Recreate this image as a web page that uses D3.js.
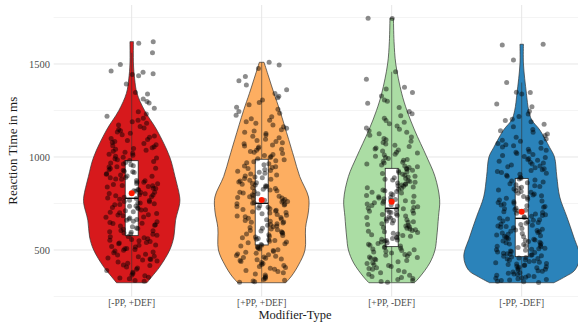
<!DOCTYPE html>
<html>
<head>
<meta charset="utf-8">
<script src="https://cdn.jsdelivr.net/npm/d3@7"></script>
<style>
  body { margin: 0; background: #fff; }
  svg { display: block; font-family: "Liberation Serif", "DejaVu Serif", serif; }
</style>
</head>
<body>
<div id="chart"></div>
<script>
// categories + fill colours
const categories = ["[-PP, +DEF]", "[+PP, +DEF]", "[+PP, -DEF]", "[-PP, -DEF]"];
const colors = ["#d7191c", "#fdae61", "#abdda4", "#2b83ba"];

// violin outline: reaction-time levels (ms) and relative density at each level
const violinLevels = [
  [324, 355, 410, 500, 570, 660, 750, 785, 895, 1000, 1145, 1250, 1343, 1420, 1500, 1620],
  [324, 360, 420, 500, 620, 710, 785, 895, 1000, 1095, 1250, 1342, 1430, 1509],
  [324, 355, 430, 500, 570, 680, 770, 895, 1000, 1145, 1250, 1343, 1500, 1620, 1746],
  [324, 356, 392, 465, 570, 680, 785, 895, 1000, 1050, 1145, 1200, 1250, 1343, 1500, 1606]
];
const violinDensity = [
  [26, 34, 48, 65, 72, 75, 82, 82, 74, 65, 43, 22, 9, 5, 3, 3],
  [41, 51, 63, 74, 75, 80, 80, 65, 55, 46, 31, 21, 12, 4],
  [39, 48, 65, 74, 77, 80, 82, 74, 60, 39, 26, 17, 7, 4, 3],
  [55, 74, 91, 99, 89, 77, 65, 60, 56, 48, 31, 17, 12, 8, 3, 3]
];

// boxplot stats (ms)
const q1 = [577, 527, 518, 464];
const median = [778, 751, 724, 670];
const q3 = [980, 988, 939, 885];
const means = [805, 769, 760, 706];
const whiskerLow = [330, 326, 327, 325];
const whiskerHigh = [1560, 1509, 1458, 1400];

// single trials (ms), one array per modifier type
const rtRed = [332, 336, 345, 349, 353, 361, 366, 374, 381, 390, 397, 403, 408, 416, 420, 429, 435, 441, 446, 449,
  452, 457, 464, 466, 473, 477, 485, 489, 494, 499, 502, 507, 508, 516, 519, 525, 527, 534, 538, 540, 546, 550,
  553, 557, 560, 566, 571, 573, 579, 584, 586, 592, 596, 598, 603, 605, 612, 616, 618, 625, 629, 633, 636, 642, 644, 648,
  652, 654, 660, 664, 666, 672, 676, 678, 684, 688, 690, 696, 700, 703, 705, 711, 715, 717, 723, 727, 729, 735, 737, 743, 745, 748,
  752, 753, 759, 761, 766, 768, 773, 777, 779, 784, 786, 791, 795, 797, 802, 804, 809, 811, 816, 818, 823, 825, 831, 832, 838, 841, 845, 847,
  852, 856, 858, 864, 866, 872, 874, 880, 882, 888, 890, 896, 898, 903, 907, 910, 916, 920, 923, 929, 931, 938, 940, 946, 948,
  953, 958, 962, 967, 971, 976, 981, 985, 990, 994, 999, 1004, 1009, 1015, 1020, 1026, 1031, 1036, 1041, 1045, 1049,
  1055, 1061, 1066, 1072, 1078, 1083, 1089, 1094, 1099, 1106, 1113, 1120, 1127, 1134, 1141, 1148,
  1156, 1164, 1172, 1181, 1189, 1197, 1208, 1219, 1231, 1243, 1262, 1290, 1298, 1312, 1338, 1347, 1392,
  1437, 1443, 1448, 1455, 1462, 1497, 1560, 1612, 1620];
const rtOrange = [326, 329, 333, 338, 342, 347, 352, 358, 365, 371, 377, 384, 390, 397, 402, 406, 411, 417, 422, 428, 433, 438, 444, 448,
  451, 455, 459, 463, 467, 471, 475, 479, 483, 488, 492, 497, 501, 505, 509, 513, 517, 522, 526, 530, 534, 539, 543, 547,
  551, 555, 558, 562, 566, 570, 574, 578, 582, 586, 590, 594, 598, 602, 605, 609, 613, 617, 621, 625, 629, 633, 637, 641, 645, 649,
  651, 655, 659, 663, 667, 671, 675, 679, 683, 687, 691, 695, 699, 702, 706, 710, 714, 718, 722, 726, 730, 734, 738, 742, 746, 749,
  751, 754, 758, 761, 765, 768, 772, 775, 779, 782, 786, 789, 793, 797, 802, 806, 810, 814, 818, 822, 826, 830, 834, 838, 842, 846, 849,
  853, 857, 862, 866, 871, 875, 880, 884, 889, 893, 898, 903, 908, 913, 918, 923, 928, 933, 938, 943, 948,
  952, 958, 963, 969, 974, 980, 985, 991, 997, 1003, 1008, 1014, 1019, 1025, 1030, 1036, 1041, 1047,
  1053, 1059, 1065, 1071, 1077, 1083, 1089, 1095, 1104, 1111, 1118, 1126, 1133, 1140, 1147,
  1155, 1163, 1172, 1181, 1189, 1197, 1206, 1216, 1225, 1235, 1244, 1256, 1268, 1281, 1293,
  1306, 1318, 1327, 1341, 1362, 1387, 1410, 1432, 1476, 1494, 1509];
const rtGreen = [327, 331, 336, 341, 347, 352, 357, 364, 370, 377, 383, 390, 396, 401, 405, 411, 416, 421, 427, 432, 437, 443, 448,
  451, 455, 459, 463, 468, 472, 476, 480, 484, 489, 493, 497, 501, 505, 510, 514, 518, 522, 526, 531, 535, 539, 543, 548,
  551, 554, 558, 562, 566, 570, 574, 578, 582, 586, 590, 594, 598, 601, 605, 609, 613, 617, 621, 625, 629, 633, 637, 641, 645, 649,
  652, 656, 659, 663, 667, 671, 675, 679, 683, 687, 691, 695, 698, 701, 704, 708, 711, 715, 718, 722, 725, 729, 732, 736, 739, 743, 747,
  751, 754, 758, 761, 765, 768, 772, 775, 779, 782, 786, 789, 793, 797, 802, 806, 810, 814, 818, 822, 826, 830, 834, 838, 842, 846, 849,
  852, 856, 860, 864, 868, 872, 876, 880, 884, 888, 892, 897, 902, 907, 911, 916, 920, 925, 929, 934, 938, 943, 947,
  952, 957, 962, 967, 972, 977, 982, 987, 992, 997, 1004, 1010, 1015, 1021, 1026, 1032, 1037, 1043, 1048,
  1056, 1063, 1070, 1078, 1085, 1092, 1099, 1108, 1117, 1125, 1133, 1141, 1149,
  1156, 1167, 1178, 1187, 1196, 1208, 1221, 1233, 1244, 1266, 1289, 1299, 1306, 1328, 1346,
  1366, 1375, 1418, 1458, 1745, 1746];
const rtBlue = [325, 329, 332, 336, 339, 342, 345, 348, 351, 354, 357, 361, 364, 368, 371, 375, 378, 382, 386, 389, 393, 397,
  401, 404, 407, 410, 413, 416, 419, 422, 425, 428, 431, 434, 438, 441, 445, 448,
  451, 454, 457, 460, 463, 466, 469, 472, 474, 477, 480, 483, 486, 489, 492, 495, 498,
  501, 504, 507, 510, 514, 517, 520, 523, 526, 529, 532, 535, 539, 542, 545, 548,
  551, 554, 558, 561, 564, 568, 571, 574, 577, 581, 584, 588, 591, 594, 598,
  601, 605, 608, 612, 615, 619, 622, 626, 629, 633, 637, 640, 644, 648,
  652, 656, 660, 663, 667, 671, 675, 679, 682, 686, 690, 694, 698, 702, 706, 710, 714, 718, 722, 726, 730, 734, 738, 742, 747,
  751, 755, 760, 764, 769, 773, 778, 782, 787, 791, 796, 801, 805, 810, 814, 819, 823, 828, 832, 837, 841, 846,
  851, 856, 861, 866, 871, 876, 881, 886, 891, 896, 902, 907, 912, 917, 922, 927, 932, 937, 942, 947,
  952, 957, 962, 967, 972, 977, 982, 987, 992, 997, 1003, 1008, 1014, 1019, 1025, 1030, 1036, 1041, 1047,
  1054, 1060, 1066, 1072, 1078, 1084, 1090, 1096, 1106, 1115, 1124, 1133, 1141, 1148,
  1163, 1176, 1190, 1196, 1203, 1217, 1231, 1246, 1270, 1285, 1339, 1346, 1348, 1400, 1521, 1602, 1606];
const trials = [rtRed, rtOrange, rtGreen, rtBlue];

const majorTicks = [500, 1000, 1500];
const minorTicks = [250, 750, 1250, 1750];

const width = 578, height = 322;
const panel = { left: 53.7, right: 599.7, top: 5, bottom: 296.5 };

const svg = d3.select('#chart').append('svg')
  .attr('width', width)
  .attr('height', height);

const x = d3.scalePoint().domain(categories).range([panel.left, panel.right]).padding(0.6);
const step = x.step();
const y = d3.scaleLinear().domain([250, 1817]).range([panel.bottom, panel.top]);
const w = d3.scaleLinear().domain([0, 100]).range([0, 0.45 * step]);

// grid (theme_minimal style)
const grid = svg.append('g');
grid.selectAll('line.minor').data(minorTicks).enter().append('line')
  .attr('x1', panel.left).attr('x2', width)
  .attr('y1', d => y(d)).attr('y2', d => y(d))
  .attr('stroke', '#f1f1f1').attr('stroke-width', 0.8);
grid.selectAll('line.major').data(majorTicks).enter().append('line')
  .attr('x1', panel.left).attr('x2', width)
  .attr('y1', d => y(d)).attr('y2', d => y(d))
  .attr('stroke', '#e6e6e6').attr('stroke-width', 1);
grid.selectAll('line.vert').data(categories).enter().append('line')
  .attr('x1', d => x(d)).attr('x2', d => x(d))
  .attr('y1', panel.top).attr('y2', panel.bottom)
  .attr('stroke', '#e6e6e6').attr('stroke-width', 1);

// violins
categories.forEach((cat, i) => {
  const cx = x(cat);
  const prof = violinLevels[i].map((v, k) => ({ v, d: violinDensity[i][k] }));
  const area = d3.area()
    .y(p => y(p.v))
    .x0(p => cx - w(p.d))
    .x1(p => cx + w(p.d))
    .curve(d3.curveCatmullRom.alpha(0.5));
  svg.append('path')
    .datum(prof)
    .attr('d', area)
    .attr('fill', colors[i])
    .attr('stroke', '#333')
    .attr('stroke-width', 0.7);
});

// boxplots
const boxW = 0.1 * step;
categories.forEach((cat, i) => {
  const cx = x(cat);
  const g = svg.append('g');
  g.append('line')
    .attr('x1', cx).attr('x2', cx)
    .attr('y1', y(whiskerLow[i])).attr('y2', y(whiskerHigh[i]))
    .attr('stroke', '#333').attr('stroke-width', 0.6);
  g.append('rect')
    .attr('x', cx - boxW / 2).attr('width', boxW)
    .attr('y', y(q3[i])).attr('height', y(q1[i]) - y(q3[i]))
    .attr('fill', '#fff').attr('stroke', '#222').attr('stroke-width', 0.8);
  g.append('line')
    .attr('x1', cx - boxW / 2).attr('x2', cx + boxW / 2)
    .attr('y1', y(median[i])).attr('y2', y(median[i]))
    .attr('stroke', '#111').attr('stroke-width', 1.4);
});

// jittered trials, width 0.2 -- hashed offsets so the layout is stable between runs
const jitterW = 0.2 * step;
const jit = (k, i) => {
  const s = Math.sin(k * 12.9898 + i * 78.233) * 43758.5453;
  return (s - Math.floor(s)) * 2 - 1;
};
categories.forEach((cat, i) => {
  const cx = x(cat);
  svg.append('g').selectAll('circle')
    .data(trials[i])
    .enter().append('circle')
    .attr('cx', (d, k) => cx + jit(k + 1, i + 1) * jitterW)
    .attr('cy', d => y(d))
    .attr('r', 2.5)
    .attr('fill', '#000')
    .attr('fill-opacity', 0.45);
});

// means
svg.append('g').selectAll('circle')
  .data(means)
  .enter().append('circle')
  .attr('cx', (d, i) => x(categories[i]))
  .attr('cy', d => y(d))
  .attr('r', 3)
  .attr('fill', '#ff1a00');

// axes text
svg.append('g').selectAll('text')
  .data(majorTicks)
  .enter().append('text')
  .attr('x', 50)
  .attr('y', d => y(d))
  .attr('dy', '0.35em')
  .attr('text-anchor', 'end')
  .attr('font-size', 10.5)
  .attr('fill', '#4d4d4d')
  .text(d => d);

svg.append('g').selectAll('text')
  .data(categories)
  .enter().append('text')
  .attr('x', d => x(d))
  .attr('y', 306)
  .attr('text-anchor', 'middle')
  .attr('font-size', 9.5)
  .attr('fill', '#4d4d4d')
  .text(d => d);

svg.append('text')
  .attr('transform', `translate(17,${(panel.top + panel.bottom) / 2}) rotate(-90)`)
  .attr('text-anchor', 'middle')
  .attr('font-size', 13)
  .attr('fill', '#1a1a1a')
  .text('Reaction Time in ms');

svg.append('text')
  .attr('x', 295)
  .attr('y', 318.5)
  .attr('text-anchor', 'middle')
  .attr('font-size', 12.5)
  .attr('fill', '#1a1a1a')
  .text('Modifier-Type');
</script>
</body>
</html>
